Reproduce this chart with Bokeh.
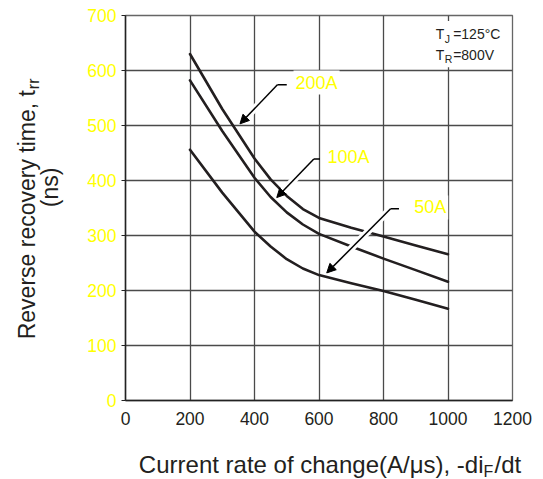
import math
from bokeh.plotting import figure
from bokeh.models import (Range1d, Label, Arrow, NormalHead, BoxAnnotation,
                          FixedTicker)
from bokeh.layouts import column, row
from bokeh.core.properties import value
from bokeh.embed import file_html
from bokeh.resources import INLINE

# ---------------- data ----------------
di_dt = [200, 300, 400, 450, 500, 550, 600, 700, 800, 900, 1000]
trr_200A = [630, 530, 440, 402, 372, 348, 332, 314, 298, 282, 266]
trr_100A = [582, 490, 405, 370, 342, 320, 303, 280, 258, 237, 216]
trr_50A = [456, 378, 307, 280, 257, 240, 228, 213, 199, 183, 167]

x_ticks = [0, 200, 400, 600, 800, 1000, 1200]
y_ticks = [0, 100, 200, 300, 400, 500, 600, 700]

curve_names = ["200A", "100A", "50A"]
label_pos = {"200A": (521, 578), "100A": (620, 442), "50A": (889, 351)}
arrow_pts = {
    "200A": ((500, 574), (471, 574), (355, 503)),
    "100A": ((603, 439), (584, 439), (469, 369)),
    "50A": ((848, 348.5), (822, 348.5), (624, 232)),
}
casing_frac = {"200A": 0.8, "100A": 0.87, "50A": 0.8}

FONT = "Liberation Sans"
TXT = "#231f20"

LEFT_W = 70
MAIN_H = 439
BOTTOM_H = 479 - MAIN_H

p = figure(width=543 - LEFT_W, height=MAIN_H, output_backend="svg",
           toolbar_location=None,
           x_range=Range1d(0, 1200), y_range=Range1d(0, 700),
           min_border_left=125 - LEFT_W, min_border_right=31, min_border_top=15,
           min_border_bottom=MAIN_H - 400)
p.background_fill_color = "white"
p.border_fill_color = "white"
p.outline_line_color = "#666666"
p.outline_line_width = 1.3

# grid
p.xgrid.ticker = FixedTicker(ticks=[200, 400, 600, 800, 1000])
p.ygrid.ticker = FixedTicker(ticks=[100, 200, 300, 400, 500, 600])
for g in (p.xgrid, p.ygrid):
    g.grid_line_color = "#4a4a4a"
    g.grid_line_width = 1.3

# axes
p.xaxis.ticker = FixedTicker(ticks=x_ticks)
p.yaxis.ticker = FixedTicker(ticks=y_ticks)
for ax in (p.xaxis, p.yaxis):
    ax.axis_line_color = "#222222"
    ax.axis_line_width = 1.5
    ax.minor_tick_line_color = None
    ax.major_label_text_font = FONT
    ax.major_label_text_font_size = "17.5px"
p.xaxis.major_tick_out = 0
p.xaxis.major_tick_in = 0
p.xaxis.major_label_standoff = 11
p.xaxis.major_label_text_color = TXT
p.yaxis.major_tick_out = 4
p.yaxis.major_tick_in = 0
p.yaxis.major_tick_line_color = "#222222"
p.yaxis.major_label_standoff = 5
p.yaxis.major_label_text_color = "#FFFF00"

# curves
series = {"200A": trr_200A, "100A": trr_100A, "50A": trr_50A}
for name in curve_names:
    p.line(di_dt, series[name], line_color="#231f20", line_width=2.6,
           line_join="round", line_cap="round")

# white casings for arrows (break curves they cross)
for name in curve_names:
    (_, _), (x1, y1), (x2, y2) = arrow_pts[name]
    f = casing_frac[name]
    p.segment(x0=[x1], y0=[y1], x1=[x1 + (x2 - x1) * f], y1=[y1 + (y2 - y1) * f],
              line_color="white", line_width=7)

# leaders + arrows
for name in curve_names:
    (x0, y0), (x1, y1), (x2, y2) = arrow_pts[name]
    p.segment(x0=[x0], y0=[y0], x1=[x1], y1=[y1], line_color="black",
              line_width=1.5)
    p.add_layout(Arrow(x_start=x1, y_start=y1, x_end=x2, y_end=y2,
                       line_color="black", line_width=1.5,
                       end=NormalHead(size=9, fill_color="black",
                                      line_color="black", line_width=1)))

# curve labels
for name in curve_names:
    lx, ly = label_pos[name]
    p.add_layout(Label(x=lx, y=ly, text=name, text_font=FONT,
                       text_font_size="18px", text_color="#FFFF00",
                       text_baseline="alphabetic", text_align="left",
                       background_fill_color="white", padding=2))

# condition box (top right)
p.add_layout(BoxAnnotation(left=950, right=1195, top=690, bottom=606,
                           fill_color="white", fill_alpha=1.0, line_alpha=0))
cond = [("T", "J", "=125°C", 666, 658), ("T", "R", "=800V", 628.5, 620.5)]
for main, sub, rest, yb, ys in cond:
    p.add_layout(Label(x=962, y=yb, text=main, text_font=FONT,
                       text_font_size="14px", text_color=TXT,
                       text_baseline="alphabetic"))
    p.add_layout(Label(x=990, y=ys, text=sub, text_font=FONT,
                       text_font_size="10.5px", text_color=TXT,
                       text_baseline="alphabetic"))
    p.add_layout(Label(x=1016, y=yb, text=rest, text_font=FONT,
                       text_font_size="14px", text_color=TXT,
                       text_baseline="alphabetic"))


# ---- helper figures for the axis titles (pixel-like coordinates) ----
def text_fig(w, h):
    f = figure(width=w, height=h, output_backend="svg", toolbar_location=None,
               x_range=Range1d(0, w), y_range=Range1d(0, h),
               x_axis_location=None, y_axis_location=None, min_border=0)
    f.grid.visible = False
    f.outline_line_color = None
    f.background_fill_color = "white"
    f.border_fill_color = "white"
    return f


def put(f, x, y, text, size, **kw):
    f.text(x=[x], y=[y], text=[text], text_font=value(FONT),
           text_font_size=value(size), text_color=TXT,
           text_baseline="alphabetic", **kw)


left = text_fig(LEFT_W, MAIN_H)
put(left, 26.5, MAIN_H - 85, "Reverse recovery time, t", "23px",
    text_align="right", angle=math.pi / 2)
put(left, 33, MAIN_H - 84, "rr", "16px", text_align="left", angle=math.pi / 2)
put(left, 49.5, MAIN_H - 196, "(ns)", "23px", text_align="center",
    angle=math.pi / 2)

bottom = text_fig(543, BOTTOM_H)
put(bottom, 483, 479 - 464, "Current rate of change(A/\u03bcs), -di", "24px",
    text_align="right")
put(bottom, 483, 479 - 471, "F", "16px", text_align="left")
put(bottom, 494, 479 - 464, "/dt", "24px", text_align="left")

layout = column(row(left, p, spacing=0), bottom, spacing=0)

open("out.html", "w").write(file_html(layout, INLINE))
